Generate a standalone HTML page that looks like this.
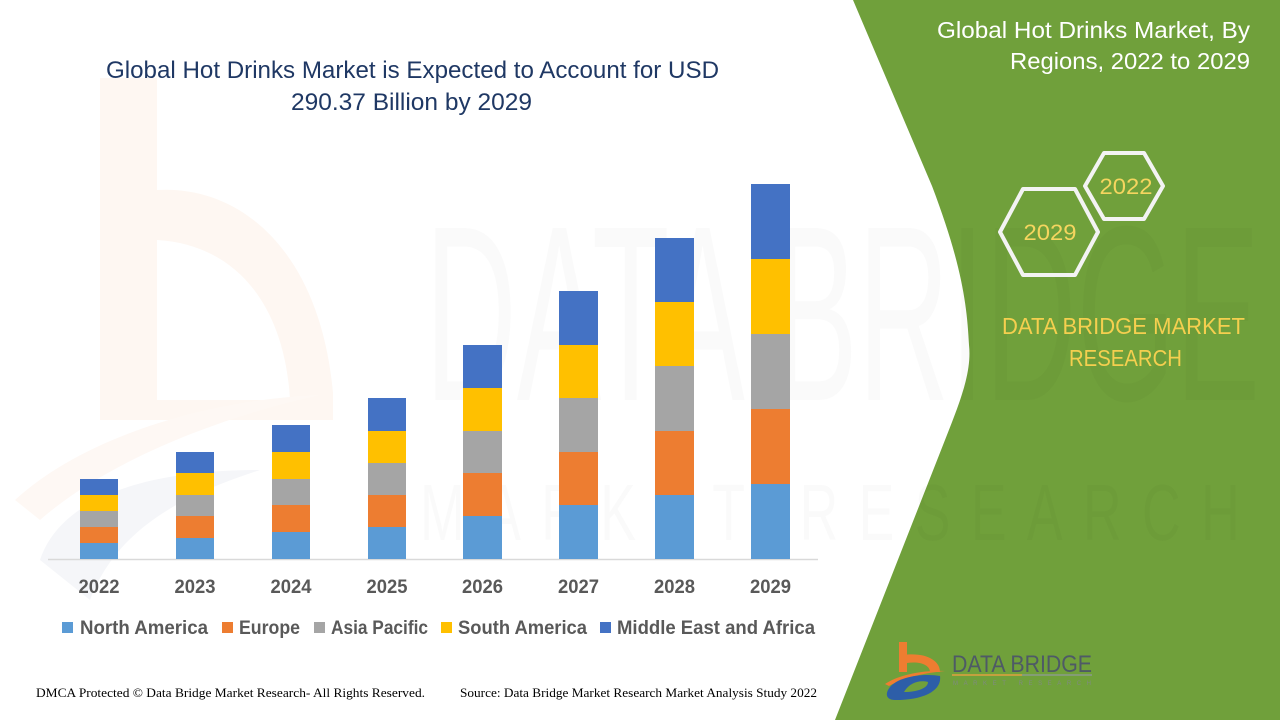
<!DOCTYPE html>
<html>
<head>
<meta charset="utf-8">
<style>
  html,body{margin:0;padding:0;background:#fff;}
  body{width:1280px;height:720px;overflow:hidden;}
  svg{display:block;}
  .sans{font-family:"Liberation Sans", Arial, sans-serif;}
  .serif{font-family:"Liberation Serif", "Times New Roman", serif;}
</style>
</head>
<body>
<svg width="1280" height="720" viewBox="0 0 1280 720" xmlns="http://www.w3.org/2000/svg">
  <rect x="0" y="0" width="1280" height="720" fill="#ffffff"/>

  <!-- faint watermark: orange b on left -->
  <path d="M100,78 L157,78 L157,190 C240,185 320,250 333,393 L333,420 L100,420 Z M157,240 L157,400 L290,400 C285,310 240,245 157,240 Z" fill="#fef7f2" fill-rule="evenodd"/>
  <path d="M15,500 C80,440 200,400 320,395 C250,410 120,450 40,520 Z" fill="#fef8f4"/>
  <path d="M40,560 C60,500 140,470 260,470 C200,490 120,520 90,600 Z" fill="#f5f6f9"/>

  <!-- green panel -->
  <path d="M853,0 L1280,0 L1280,720 L835,720 L945,440 C960,402 972,372 969,345 C967,305 962,265 932,186 Z" fill="#70a03b"/>

  <!-- faint watermark text -->
  <text class="sans" x="425" y="400" font-size="250" textLength="835" lengthAdjust="spacingAndGlyphs" fill="#000" fill-opacity="0.02">DATA BRIDGE</text>
  <text class="sans" x="420" y="540" font-size="80" textLength="840" lengthAdjust="spacingAndGlyphs" fill="#000" fill-opacity="0.018" letter-spacing="30">MARKET RESEARCH</text>

  <!-- chart title -->
  <text class="sans" x="106" y="78" font-size="24" fill="#1f3864" textLength="613" lengthAdjust="spacingAndGlyphs">Global Hot Drinks Market is Expected to Account for USD</text>
  <text class="sans" x="291" y="110" font-size="24" fill="#1f3864" textLength="241" lengthAdjust="spacingAndGlyphs">290.37 Billion by 2029</text>

  <!-- axis -->
  <line x1="48" y1="559.5" x2="818" y2="559.5" stroke="#d9d9d9" stroke-width="1.5"/>

  <!-- bars -->
  <g>
    <rect x="80" y="543" width="38" height="16" fill="#5b9bd5"/>
    <rect x="80" y="527" width="38" height="16" fill="#ed7d31"/>
    <rect x="80" y="511" width="38" height="16" fill="#a5a5a5"/>
    <rect x="80" y="495" width="38" height="16" fill="#ffc000"/>
    <rect x="80" y="479" width="38" height="16" fill="#4472c4"/>

    <rect x="176" y="538" width="38" height="21" fill="#5b9bd5"/>
    <rect x="176" y="516" width="38" height="22" fill="#ed7d31"/>
    <rect x="176" y="495" width="38" height="21" fill="#a5a5a5"/>
    <rect x="176" y="473" width="38" height="22" fill="#ffc000"/>
    <rect x="176" y="452" width="38" height="21" fill="#4472c4"/>

    <rect x="272" y="532" width="38" height="27" fill="#5b9bd5"/>
    <rect x="272" y="505" width="38" height="27" fill="#ed7d31"/>
    <rect x="272" y="479" width="38" height="26" fill="#a5a5a5"/>
    <rect x="272" y="452" width="38" height="27" fill="#ffc000"/>
    <rect x="272" y="425" width="38" height="27" fill="#4472c4"/>

    <rect x="368" y="527" width="38" height="32" fill="#5b9bd5"/>
    <rect x="368" y="495" width="38" height="32" fill="#ed7d31"/>
    <rect x="368" y="463" width="38" height="32" fill="#a5a5a5"/>
    <rect x="368" y="431" width="38" height="32" fill="#ffc000"/>
    <rect x="368" y="398" width="38" height="33" fill="#4472c4"/>

    <rect x="463" y="516" width="39" height="43" fill="#5b9bd5"/>
    <rect x="463" y="473" width="39" height="43" fill="#ed7d31"/>
    <rect x="463" y="431" width="39" height="42" fill="#a5a5a5"/>
    <rect x="463" y="388" width="39" height="43" fill="#ffc000"/>
    <rect x="463" y="345" width="39" height="43" fill="#4472c4"/>

    <rect x="559" y="505" width="39" height="54" fill="#5b9bd5"/>
    <rect x="559" y="452" width="39" height="53" fill="#ed7d31"/>
    <rect x="559" y="398" width="39" height="54" fill="#a5a5a5"/>
    <rect x="559" y="345" width="39" height="53" fill="#ffc000"/>
    <rect x="559" y="291" width="39" height="54" fill="#4472c4"/>

    <rect x="655" y="495" width="39" height="64" fill="#5b9bd5"/>
    <rect x="655" y="431" width="39" height="64" fill="#ed7d31"/>
    <rect x="655" y="366" width="39" height="65" fill="#a5a5a5"/>
    <rect x="655" y="302" width="39" height="64" fill="#ffc000"/>
    <rect x="655" y="238" width="39" height="64" fill="#4472c4"/>

    <rect x="751" y="484" width="39" height="75" fill="#5b9bd5"/>
    <rect x="751" y="409" width="39" height="75" fill="#ed7d31"/>
    <rect x="751" y="334" width="39" height="75" fill="#a5a5a5"/>
    <rect x="751" y="259" width="39" height="75" fill="#ffc000"/>
    <rect x="751" y="184" width="39" height="75" fill="#4472c4"/>
  </g>

  <!-- year labels -->
  <g class="sans" font-size="19" font-weight="bold" fill="#595959" text-anchor="middle">
    <text x="99" y="593" textLength="41" lengthAdjust="spacingAndGlyphs">2022</text>
    <text x="195" y="593" textLength="41" lengthAdjust="spacingAndGlyphs">2023</text>
    <text x="291" y="593" textLength="41" lengthAdjust="spacingAndGlyphs">2024</text>
    <text x="387" y="593" textLength="41" lengthAdjust="spacingAndGlyphs">2025</text>
    <text x="482.5" y="593" textLength="41" lengthAdjust="spacingAndGlyphs">2026</text>
    <text x="578.5" y="593" textLength="41" lengthAdjust="spacingAndGlyphs">2027</text>
    <text x="674.5" y="593" textLength="41" lengthAdjust="spacingAndGlyphs">2028</text>
    <text x="770.5" y="593" textLength="41" lengthAdjust="spacingAndGlyphs">2029</text>
  </g>

  <!-- legend -->
  <g class="sans" font-size="19" font-weight="bold" fill="#595959">
    <rect x="62" y="622" width="11" height="11" fill="#5b9bd5"/>
    <text x="80" y="634" textLength="128" lengthAdjust="spacingAndGlyphs">North America</text>
    <rect x="222" y="622" width="11" height="11" fill="#ed7d31"/>
    <text x="239" y="634" textLength="61" lengthAdjust="spacingAndGlyphs">Europe</text>
    <rect x="314" y="622" width="11" height="11" fill="#a5a5a5"/>
    <text x="331" y="634" textLength="97" lengthAdjust="spacingAndGlyphs">Asia Pacific</text>
    <rect x="441" y="622" width="11" height="11" fill="#ffc000"/>
    <text x="458" y="634" textLength="129" lengthAdjust="spacingAndGlyphs">South America</text>
    <rect x="600" y="622" width="11" height="11" fill="#4472c4"/>
    <text x="617" y="634" textLength="198" lengthAdjust="spacingAndGlyphs">Middle East and Africa</text>
  </g>

  <!-- footer -->
  <text class="serif" x="36" y="697" font-size="13" fill="#000" textLength="389" lengthAdjust="spacingAndGlyphs">DMCA Protected © Data Bridge Market Research- All Rights Reserved.</text>
  <text class="serif" x="460" y="697" font-size="13" fill="#000" textLength="357" lengthAdjust="spacingAndGlyphs">Source: Data Bridge Market Research Market Analysis Study 2022</text>

  <!-- right panel title -->
  <text class="sans" x="937" y="38" font-size="23" fill="#ffffff" textLength="313" lengthAdjust="spacingAndGlyphs">Global Hot Drinks Market, By</text>
  <text class="sans" x="1010" y="69" font-size="23" fill="#ffffff" textLength="240" lengthAdjust="spacingAndGlyphs">Regions, 2022 to 2029</text>

  <!-- hexagons -->
  <path d="M1085,186 L1104,153 L1144,153 L1163,186 L1144,219 L1104,219 Z" fill="none" stroke="#f3f3f3" stroke-width="4" stroke-linejoin="round"/>
  <path d="M1000,232 L1023,189 L1075,189 L1098,232 L1075,275 L1023,275 Z" fill="none" stroke="#f3f3f3" stroke-width="4" stroke-linejoin="round"/>
  <text class="sans" x="1126" y="194" font-size="22" fill="#f5d55f" text-anchor="middle" textLength="53" lengthAdjust="spacingAndGlyphs">2022</text>
  <text class="sans" x="1050" y="240" font-size="22" fill="#f5d55f" text-anchor="middle" textLength="53" lengthAdjust="spacingAndGlyphs">2029</text>

  <!-- DATA BRIDGE MARKET RESEARCH -->
  <text class="sans" x="1002" y="334" font-size="23" fill="#f5cf4f" textLength="243" lengthAdjust="spacingAndGlyphs">DATA BRIDGE MARKET</text>
  <text class="sans" x="1069" y="366" font-size="23" fill="#f5cf4f" textLength="113" lengthAdjust="spacingAndGlyphs">RESEARCH</text>

  <!-- logo -->
  <g>
    <rect x="899" y="642" width="8" height="30" fill="#ee7d31"/>
    <path d="M903,655 C925,652 940,660 940,672 L930,672 C930,665 920,661 907,663 Z" fill="#ee7d31"/>
    <path d="M885,684 C900,674 925,670 945,671 C925,673 905,677 889,686 Z" fill="#ee7d31"/>
    <path d="M888,690 C895,676 925,673 940,676 C942,690 925,700 895,700 C888,700 885,696 888,690 Z M904,692 C918,692 928,688 928,682 C920,680 910,682 904,692 Z" fill="#2d5ea8" fill-rule="evenodd"/>
    <text class="sans" x="952" y="672" font-size="24" fill="#4e5a66" textLength="140" lengthAdjust="spacingAndGlyphs">DATA BRIDGE</text>
    <line x1="952" y1="675" x2="1022" y2="675" stroke="#e0a040" stroke-width="1.5"/>
    <line x1="1022" y1="675" x2="1092" y2="675" stroke="#8a9a8a" stroke-width="1.5"/>
    <text class="sans" x="953" y="685" font-size="6" fill="#7f8a80" textLength="138" lengthAdjust="spacing">MARKET RESEARCH</text>
  </g>
</svg>
</body>
</html>
